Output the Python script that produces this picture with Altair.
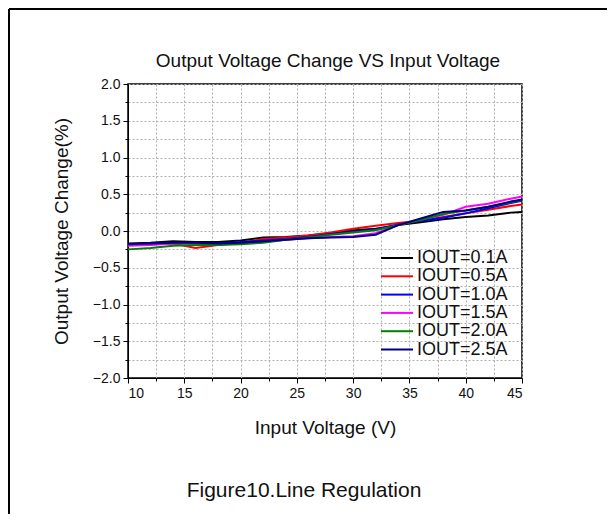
import altair as alt
import pandas as pd

vin = [10, 12, 14, 16, 18, 20, 22, 24, 26, 28, 30, 32, 34, 36, 38, 40, 42, 44, 45]

labels = ["IOUT=0.1A", "IOUT=0.5A", "IOUT=1.0A", "IOUT=1.5A", "IOUT=2.0A", "IOUT=2.5A"]
colors = ["#000000", "#ff0000", "#0000ff", "#ff00ff", "#008000", "#000080"]

iout_01 = [-0.17, -0.16, -0.14, -0.15, -0.15, -0.13, -0.09, -0.08, -0.06, -0.03, 0.01, 0.03, 0.08, 0.12, 0.16, 0.19, 0.21, 0.25, 0.26]
iout_05 = [-0.19, -0.18, -0.17, -0.23, -0.19, -0.16, -0.11, -0.09, -0.06, -0.02, 0.03, 0.07, 0.11, 0.14, 0.19, 0.24, 0.29, 0.34, 0.36]
iout_10 = [-0.18, -0.17, -0.16, -0.17, -0.17, -0.15, -0.13, -0.11, -0.08, -0.04, -0.01, 0.02, 0.09, 0.14, 0.18, 0.24, 0.31, 0.38, 0.41]
iout_15 = [-0.20, -0.19, -0.17, -0.17, -0.18, -0.17, -0.15, -0.12, -0.10, -0.08, -0.07, -0.03, 0.08, 0.16, 0.22, 0.33, 0.37, 0.44, 0.47]
iout_20 = [-0.25, -0.23, -0.20, -0.19, -0.19, -0.18, -0.16, -0.12, -0.09, -0.05, -0.02, 0.01, 0.08, 0.15, 0.23, 0.28, 0.33, 0.39, 0.42]
iout_25 = [-0.18, -0.17, -0.16, -0.16, -0.17, -0.16, -0.14, -0.12, -0.10, -0.09, -0.08, -0.05, 0.08, 0.17, 0.26, 0.28, 0.33, 0.40, 0.43]

x_grid = [10, 12.5, 15, 17.5, 20, 22.5, 25, 27.5, 30, 32.5, 35, 37.5, 40, 42.5, 45]
y_grid = [-2.0, -1.75, -1.5, -1.25, -1.0, -0.75, -0.5, -0.25, 0.0, 0.25, 0.5, 0.75, 1.0, 1.25, 1.5, 1.75, 2.0]

title_text = "Output Voltage Change VS Input Voltage"
x_title = "Input Voltage (V)"
y_title = "Output Voltage Change(%)"
caption = "Figure10.Line Regulation"

series_values = [iout_01, iout_05, iout_10, iout_15, iout_20, iout_25]
rows = []
for lab, vals in zip(labels, series_values):
    for v, y in zip(vin, vals):
        rows.append({"vin": v, "dv": y, "series": lab})
df = pd.DataFrame(rows)

FONT = "Liberation Sans"
W, H = 394, 294

color_scale = alt.Scale(domain=labels, range=colors)

lines = alt.Chart(df).mark_line(strokeWidth=2).encode(
    x=alt.X(
        "vin:Q",
        scale=alt.Scale(domain=[10, 45], nice=False, zero=False),
        axis=alt.Axis(
            values=x_grid,
            labelExpr="datum.value % 5 == 0 ? datum.label : ''",
            format="d",
            grid=True,
            gridDash=[2, 2],
            gridColor="#b0b0b0",
            gridWidth=1,
            tickSize={"condition": {"test": "datum.value % 5 == 0", "value": 5}, "value": 3},
            tickColor="black",
            domainColor="black",
            labelFont=FONT,
            labelFontSize=14,
            labelColor="#111",
            labelPadding=3,
            title=x_title,
            titleFont=FONT,
            titleFontSize=19,
            titleFontWeight="normal",
            titleColor="#111",
            titlePadding=18,
        ),
    ),
    y=alt.Y(
        "dv:Q",
        scale=alt.Scale(domain=[-2, 2], nice=False, zero=False),
        axis=alt.Axis(
            values=y_grid,
            labelExpr="abs(datum.value) % 0.5 == 0 ? format(datum.value, '.1f') : ''",
            grid=True,
            gridDash=[2, 2],
            gridColor="#b0b0b0",
            gridWidth=1,
            tickSize={"condition": {"test": "abs(datum.value) % 0.5 == 0", "value": 5}, "value": 3},
            tickColor="black",
            domainColor="black",
            labelFont=FONT,
            labelFontSize=14,
            labelColor="#111",
            labelPadding=3,
            title=y_title,
            titleFont=FONT,
            titleFontSize=19,
            titleFontWeight="normal",
            titleColor="#111",
            titlePadding=21,
        ),
    ),
    color=alt.Color("series:N", scale=color_scale, legend=None),
    detail="series:N",
)

leg_df = pd.DataFrame({"series": labels})
leg_y = alt.Y("series:N", scale=alt.Scale(domain=labels, range=[174, 265.5], type="point", padding=0), axis=None)

leg_rules = alt.Chart(leg_df).mark_rule(strokeWidth=2).encode(
    x=alt.value(253), x2=alt.value(285), y=leg_y,
    color=alt.Color("series:N", scale=color_scale, legend=None),
)
leg_text = alt.Chart(leg_df).mark_text(
    align="left", baseline="middle", font=FONT, fontSize=18, color="#111", dx=0
).encode(x=alt.value(289), y=leg_y, text="series:N")

one = pd.DataFrame({"t": [caption], "h": [title_text]})
cap = alt.Chart(one).mark_text(
    align="center", baseline="middle", font=FONT, fontSize=21, color="#111"
).encode(x=alt.value(176), y=alt.value(407), text="t:N")

ttl = alt.Chart(one).mark_text(
    align="center", baseline="middle", font=FONT, fontSize=19, color="#111"
).encode(x=alt.value(W / 2 + 3), y=alt.value(-23), text="h:N")

frame_left = alt.Chart(one).mark_rule(color="black", strokeWidth=2).encode(
    x=alt.value(-119), y=alt.value(-75), y2=alt.value(430)
)
frame_top = alt.Chart(one).mark_rule(color="black", strokeWidth=2).encode(
    x=alt.value(-119), x2=alt.value(479), y=alt.value(-75)
)

chart = alt.layer(lines, leg_rules, leg_text, cap, ttl, frame_left, frame_top).resolve_scale(
    y="independent"
).properties(
    width=W,
    height=H,
    padding=0,
    background="white",
).configure_view(stroke="black", strokeWidth=1.5)

chart.save("out.html", embed_options={"renderer": "svg", "actions": False})
